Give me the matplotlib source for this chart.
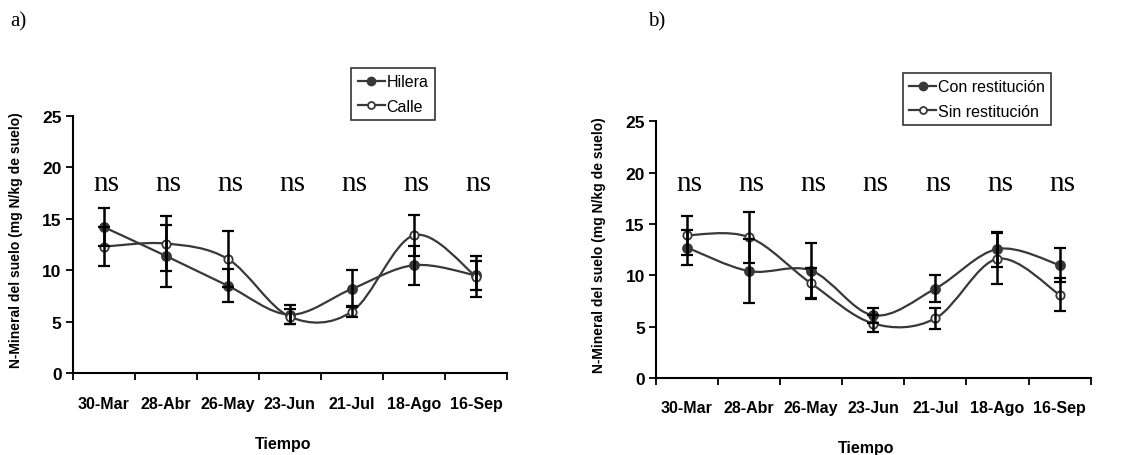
import numpy as np
import matplotlib
matplotlib.use("Agg")
import matplotlib.pyplot as plt
from matplotlib.path import Path
from matplotlib.patches import PathPatch
from matplotlib.lines import Line2D

plt.rcParams['font.family'] = ['Liberation Sans', 'DejaVu Sans']

fechas = ['30-Mar', '28-Abr', '26-May', '23-Jun', '21-Jul', '18-Ago', '16-Sep']
signif = ['ns', 'ns', 'ns', 'ns', 'ns', 'ns', 'ns']

# a) Hilera / Calle
hilera = [14.2, 11.4, 8.5, 5.7, 8.2, 10.5, 9.5]
hilera_err = [1.8, 3.0, 1.6, 0.9, 1.8, 1.9, 1.4]
calle = [12.3, 12.6, 11.1, 5.5, 6.0, 13.4, 9.4]
calle_err = [1.9, 2.7, 2.7, 0.7, 0.5, 2.0, 2.0]

# b) Con / Sin restitución
con_rest = [12.7, 10.4, 10.45, 6.1, 8.7, 12.55, 11.0]
con_err = [1.7, 3.1, 2.7, 0.75, 1.3, 1.7, 1.7]
sin_rest = [13.9, 13.7, 9.2, 5.3, 5.8, 11.6, 8.1]
sin_err = [1.9, 2.5, 1.5, 0.8, 1.05, 2.5, 1.6]

LINE = '#383838'


def smooth_path(x, y):
    # curva suavizada tipo Excel (bezier que pasa por los puntos)
    n = len(x)
    verts = [(x[0], y[0])]
    codes = [Path.MOVETO]
    for i in range(n - 1):
        xp, yp = x[max(i - 1, 0)], y[max(i - 1, 0)]
        xn, yn = x[min(i + 2, n - 1)], y[min(i + 2, n - 1)]
        c1 = (x[i] + (x[i + 1] - xp) / 6, y[i] + (y[i + 1] - yp) / 6)
        c2 = (x[i + 1] - (xn - x[i]) / 6, y[i + 1] - (yn - y[i]) / 6)
        verts += [c1, c2, (x[i + 1], y[i + 1])]
        codes += [Path.CURVE4] * 3
    return Path(verts, codes)


def panel(ax, y1, e1, y2, e2, lab1, lab2, ns_y, leg_pos, xlab_y):
    x = np.arange(len(fechas))
    for y, e, filled in [(y1, e1, True), (y2, e2, False)]:
        ax.add_patch(PathPatch(smooth_path(x, y), fill=False, edgecolor=LINE,
                               lw=1.6, zorder=2))
        ax.plot(x, y, 'o', ls='none', ms=6.5 if filled else 6,
                mfc=LINE if filled else 'white', mec=LINE, mew=1.3, zorder=3)
        ax.errorbar(x, y, yerr=e, fmt='none', ecolor='black', elinewidth=1.8,
                    capsize=4.5, capthick=1.6, zorder=4)
    for xi, s in zip(x, signif):
        ax.text(xi + 0.04, ns_y, s, ha='center', va='baseline',
                family='Liberation Serif', fontsize=21)

    ax.set_xlim(-0.5, len(fechas) - 0.5)
    ax.set_ylim(0, 25)
    ax.set_yticks(np.arange(0, 26, 5))
    ax.set_xticks(np.arange(-0.5, len(fechas), 1.0))
    ax.set_xticklabels([])
    ax.set_xticks(x, minor=True)
    ax.set_xticklabels(fechas, minor=True, fontweight='bold', fontsize=11.5)
    ax.tick_params(axis='x', which='major', direction='out', length=5, width=1.3)
    ax.tick_params(axis='x', which='minor', length=0, pad=16)
    ax.tick_params(axis='y', direction='out', length=5, width=1.3, pad=3,
                   labelsize=12.5)
    for t in ax.get_yticklabels():
        t.set_fontweight('bold')
    for side in ['top', 'right']:
        ax.spines[side].set_visible(False)
    for side in ['left', 'bottom']:
        ax.spines[side].set_linewidth(1.5)

    ax.set_ylabel('N-Mineral del suelo (mg N/kg de suelo)', fontsize=10,
                  fontweight='bold')
    ax.yaxis.set_label_coords(-0.114, 0.52)
    ax.set_xlabel('Tiempo', fontsize=11.5, fontweight='bold')
    ax.xaxis.set_label_coords(0.484, xlab_y)

    handles = [
        Line2D([], [], color=LINE, lw=1.6, marker='o', ms=6, mfc=LINE, mec=LINE),
        Line2D([], [], color=LINE, lw=1.6, marker='o', ms=5, mfc='white',
               mec=LINE, mew=1.3),
    ]
    leg = ax.legend(handles, [lab1, lab2], loc='upper left',
                    bbox_to_anchor=leg_pos, bbox_transform=ax.figure.transFigure,
                    fontsize=11.5, frameon=True, fancybox=False, handlelength=1.7,
                    handletextpad=0.1, labelspacing=0.6, borderpad=0.4,
                    borderaxespad=0)
    leg.get_frame().set_edgecolor('black')
    leg.get_frame().set_linewidth(1.2)


fig = plt.figure(figsize=(11.4, 4.56), dpi=100)
ax1 = fig.add_axes([0.0638, 0.179, 0.381, 0.565])
ax2 = fig.add_axes([0.5754, 0.169, 0.3813, 0.563])

panel(ax1, hilera, hilera_err, calle, calle_err, 'Hilera', 'Calle', 17.8,
      (0.308, 0.849), -0.243)
panel(ax2, con_rest, con_err, sin_rest, sin_err, 'Con restitución',
      'Sin restitución', 18.3, (0.792, 0.838), -0.241)

fig.text(0.009, 0.952, 'a)', family='Liberation Serif', fontsize=15, va='center')
fig.text(0.568, 0.952, 'b)', family='Liberation Serif', fontsize=15, va='center')

fig.savefig('out.png', dpi=100)
